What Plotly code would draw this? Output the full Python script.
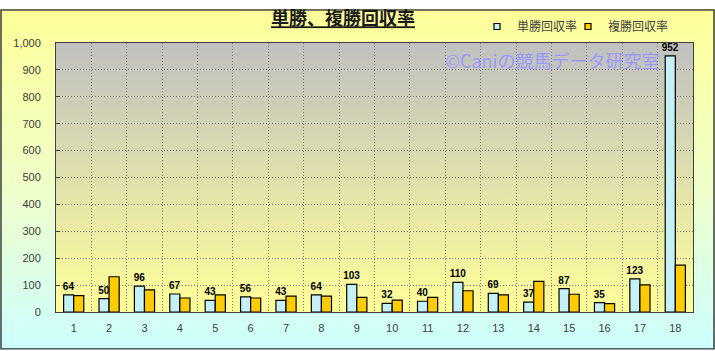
import base64
import plotly.graph_objects as go

# ---- data ----
categories = [str(i) for i in range(1, 19)]
tansho = [64, 50, 96, 67, 43, 56, 43, 64, 103, 32, 40, 110, 69, 37, 87, 35, 123, 952]
fukusho = [61, 131, 82, 52, 64, 52, 59, 59, 54, 44, 54, 79, 64, 114, 66, 31, 101, 174]
series_names = ["単勝回収率", "複勝回収率"]
title_text = "単勝、複勝回収率"
watermark = "©Caniの競馬データ研究室"

W, H = 715, 351
L, R, T, B = 56, 22, 35, 39
PW, PH = W - L - R, H - T - B

BLUE = "#c4f0f6"
ORANGE = "#ffcc00"
GRID = "#7a7a7a"


def svg_uri(svg):
    return "data:image/svg+xml;base64," + base64.b64encode(svg.encode()).decode()


outer_svg = f"""<svg xmlns='http://www.w3.org/2000/svg' width='{W}' height='{H}' viewBox='0 0 {W} {H}' preserveAspectRatio='none'>
<defs><linearGradient id='g' x1='0' y1='0' x2='0' y2='1'>
<stop offset='0' stop-color='#ffff99'/><stop offset='0.55' stop-color='#eeffcc'/><stop offset='1' stop-color='#ccffff'/>
</linearGradient></defs>
<rect x='0' y='0' width='{W}' height='{H}' fill='url(#g)'/>
<rect x='1' y='1' width='{W-2}' height='{H-2}' fill='none' stroke='#404040' stroke-width='1.5'/>
</svg>"""

plot_svg = f"""<svg xmlns='http://www.w3.org/2000/svg' width='{PW}' height='{PH}' viewBox='0 0 {PW} {PH}' preserveAspectRatio='none'>
<defs><linearGradient id='p' x1='0' y1='0' x2='0' y2='1'>
<stop offset='0' stop-color='#c0c0c0'/><stop offset='1' stop-color='#ffff99'/>
</linearGradient></defs>
<rect x='0' y='0' width='{PW}' height='{PH}' fill='url(#p)'/>
</svg>"""

fig = go.Figure()
fig.add_trace(go.Bar(
    x=categories, y=tansho, name=series_names[0], showlegend=False,
    marker=dict(color=BLUE, line=dict(color="#000000", width=1.2)),
    texttemplate="%{y}", textposition="outside", constraintext="none",
    textfont=dict(family="Liberation Sans, Arial, sans-serif", size=10, color="#000000", weight="bold"),
    cliponaxis=False,
))
fig.add_trace(go.Bar(
    x=categories, y=fukusho, name=series_names[1], showlegend=False,
    marker=dict(color=ORANGE, line=dict(color="#000000", width=1.2)),
))
# legend entries (small square swatches), each in its own legend for exact placement
for nm, col, lg in zip(series_names, [BLUE, ORANGE], ["legend", "legend2"]):
    fig.add_trace(go.Scatter(
        x=[None], y=[None], mode="markers", name=nm, legend=lg,
        marker=dict(symbol="square", size=6, color=col, line=dict(color="#000000", width=1.2)),
    ))

legend_common = dict(
    orientation="h", xanchor="left", y=1 + (T - 18) / PH, yanchor="middle",
    bgcolor="rgba(0,0,0,0)", borderwidth=0,
    font=dict(family="Noto Sans CJK JP", size=12, color="#404040"),
    itemwidth=30,
)

fig.update_layout(
    width=W, height=H,
    margin=dict(l=L, r=R, t=T, b=B, pad=0),
    paper_bgcolor="#ffffff",
    plot_bgcolor="rgba(0,0,0,0)",
    barmode="group", bargap=0.43, bargroupgap=0.0,
    font=dict(family="Liberation Sans, Noto Sans CJK JP, sans-serif", size=11, color="#404040"),
    title=dict(
        text=f"<u>{title_text}</u>", x=(343) / W, xanchor="center", y=1 - 19 / H, yanchor="middle",
        font=dict(family="Noto Sans CJK JP", size=18, color="#1a1a1a", weight="bold"),
    ),
    legend=dict(x=(477 - L) / PW, **legend_common),
    legend2=dict(x=(568 - L) / PW, **legend_common),
    xaxis=dict(
        type="category", tickson="boundaries", showgrid=True, gridcolor=GRID, griddash="1px,2px", gridwidth=1,
        showline=True, linecolor="#404040", linewidth=1, mirror=True,
        ticks="", ticklabelstandoff=6,
        tickfont=dict(family="Liberation Sans, Arial, sans-serif", size=11, color="#404040"),
        range=[-0.5, 17.5],
    ),
    yaxis=dict(
        range=[0, 1000], dtick=100, tick0=0, tickformat=",",
        showgrid=True, gridcolor=GRID, griddash="1px,2px", gridwidth=1,
        showline=True, linecolor="#404040", linewidth=1, mirror=True,
        ticks="inside", ticklen=4, tickcolor="#404040", ticklabelstandoff=12,
        tickfont=dict(family="Liberation Sans, Arial, sans-serif", size=11, color="#404040"),
        zeroline=False,
    ),
    images=[
        dict(source=svg_uri(outer_svg), xref="paper", yref="paper",
             x=-L / PW, y=1 + T / PH, sizex=W / PW, sizey=H / PH,
             xanchor="left", yanchor="top", sizing="stretch", layer="below"),
        dict(source=svg_uri(plot_svg), xref="paper", yref="paper",
             x=0, y=1, sizex=1, sizey=1,
             xanchor="left", yanchor="top", sizing="stretch", layer="below"),
    ],
    annotations=[
        dict(text=watermark, xref="paper", yref="paper",
             x=(662 - L) / PW, y=1 - (53 - T) / PH, xanchor="right", yanchor="middle",
             showarrow=False,
             font=dict(family="Noto Sans CJK JP", size=18, color="#9a9aff")),
    ],
)

fig.write_html("out.html")
